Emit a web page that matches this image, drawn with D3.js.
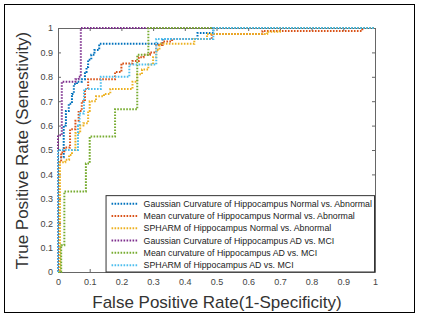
<!DOCTYPE html>
<html>
<head>
<meta charset="utf-8">
<script src="https://cdn.jsdelivr.net/npm/d3@7"></script>
<style>
  body { margin: 0; background: #fff; }
  svg { font-family: Arial, "Liberation Sans", sans-serif; }
</style>
</head>
<body>
<div id="chart"></div>
<script>
// ROC curves, [fpr, tpr] step vertices
const gaussNormal = [[0,0],[0,0.47],[0.018,0.47],[0.018,0.6],[0.025,0.6],[0.025,0.66],[0.034,0.66],[0.034,0.69],[0.044,0.69],[0.044,0.73],[0.05,0.73],[0.05,0.77],[0.06,0.77],[0.06,0.78],[0.075,0.78],[0.075,0.79],[0.085,0.79],[0.085,0.82],[0.09,0.82],[0.09,0.84],[0.095,0.84],[0.095,0.87],[0.105,0.87],[0.105,0.89],[0.115,0.89],[0.115,0.91],[0.13,0.91],[0.13,0.935],[0.33,0.935],[0.33,0.955],[0.44,0.955],[0.44,0.98],[0.49,0.98],[0.49,1],[1,1]];
const meanNormal = [[0,0],[0,0.45],[0.01,0.45],[0.01,0.49],[0.02,0.49],[0.02,0.51],[0.038,0.51],[0.038,0.585],[0.055,0.585],[0.055,0.62],[0.065,0.62],[0.065,0.66],[0.075,0.66],[0.075,0.7],[0.085,0.7],[0.085,0.75],[0.095,0.75],[0.095,0.79],[0.18,0.79],[0.18,0.82],[0.2,0.82],[0.2,0.855],[0.235,0.855],[0.235,0.865],[0.255,0.865],[0.255,0.88],[0.27,0.88],[0.27,0.89],[0.29,0.89],[0.29,0.9],[0.31,0.9],[0.31,0.93],[0.33,0.93],[0.33,0.945],[0.36,0.945],[0.36,0.955],[0.485,0.955],[0.485,0.975],[0.645,0.975],[0.645,0.988],[0.96,0.988],[0.96,1],[1,1]];
const spharmNormal = [[0,0],[0.006,0],[0.006,0.45],[0.023,0.45],[0.023,0.46],[0.035,0.46],[0.035,0.48],[0.044,0.48],[0.044,0.5],[0.055,0.5],[0.055,0.57],[0.07,0.57],[0.07,0.6],[0.08,0.6],[0.08,0.61],[0.095,0.61],[0.095,0.66],[0.1,0.66],[0.1,0.7],[0.12,0.7],[0.12,0.72],[0.145,0.72],[0.145,0.73],[0.165,0.73],[0.165,0.75],[0.235,0.75],[0.235,0.78],[0.25,0.78],[0.25,0.81],[0.265,0.81],[0.265,0.83],[0.285,0.83],[0.285,0.85],[0.3,0.85],[0.3,0.88],[0.31,0.88],[0.31,0.91],[0.32,0.91],[0.32,0.935],[0.43,0.935],[0.43,0.955],[0.47,0.955],[0.47,0.975],[0.66,0.975],[0.66,0.985],[0.7,0.985],[0.7,1],[1,1]];
const gaussAD = [[0,0],[0,0.56],[0.012,0.56],[0.012,0.78],[0.055,0.78],[0.055,0.79],[0.065,0.79],[0.065,0.8],[0.072,0.8],[0.072,1],[1,1]];
const meanAD = [[0,0],[0.01,0],[0.01,0.11],[0.02,0.11],[0.02,0.33],[0.088,0.33],[0.088,0.445],[0.1,0.445],[0.1,0.555],[0.18,0.555],[0.18,0.667],[0.25,0.667],[0.25,0.89],[0.285,0.89],[0.285,1],[1,1]];
const spharmAD = [[0,0],[0,0.5],[0.063,0.5],[0.063,0.6],[0.068,0.6],[0.068,0.65],[0.082,0.65],[0.082,0.75],[0.135,0.75],[0.135,0.8],[0.225,0.8],[0.225,0.85],[0.31,0.85],[0.31,0.955],[0.49,0.955],[0.49,1],[1,1]];

const seriesNames = [
  "Gaussian Curvature of Hippocampus Normal vs. Abnormal",
  "Mean curvature of Hippocampus Normal vs. Abnormal",
  "SPHARM of Hippocampus Normal vs. Abnormal",
  "Gaussian Curvature of Hippocampus AD vs. MCI",
  "Mean curvature of Hippocampus AD vs. MCI",
  "SPHARM of Hippocampus AD vs. MCI"
];
const seriesData = [gaussNormal, meanNormal, spharmNormal, gaussAD, meanAD, spharmAD];
const colors = ["#0072BD", "#D95319", "#EDB120", "#7E2F8E", "#77AC30", "#4DBEEE"];
const ticks = d3.range(0, 11).map(d => d / 10);

const W = 429, H = 326;
const margin = { top: 28, left: 58, right: 54, bottom: 54 };
const width = W - margin.left - margin.right;
const height = H - margin.top - margin.bottom;

const svg = d3.select("#chart").append("svg")
  .attr("width", W).attr("height", H);

// outer frame
svg.append("rect")
  .attr("x", 4.5).attr("y", 4.5).attr("width", 410).attr("height", 308)
  .attr("fill", "none").attr("stroke", "#000").attr("stroke-width", 1);

const g = svg.append("g").attr("transform", `translate(${margin.left},${margin.top})`);

const x = d3.scaleLinear().domain([0, 1]).range([0, width]);
const y = d3.scaleLinear().domain([0, 1]).range([height, 0]);

const fmt = d => (d === 0 || d === 1) ? d3.format("d")(d) : d3.format(".1f")(d);
const axisColor = "#666";
const labelColor = "#444";

const xAxis = g.append("g").attr("transform", `translate(0,${height})`)
  .call(d3.axisBottom(x).tickValues(ticks).tickFormat(fmt).tickSizeInner(-3).tickSizeOuter(0).tickPadding(7));
const yAxis = g.append("g")
  .call(d3.axisLeft(y).tickValues(ticks).tickFormat(fmt).tickSizeInner(-3).tickSizeOuter(0).tickPadding(5));
const xTop = g.append("g")
  .call(d3.axisTop(x).tickValues(ticks).tickFormat("").tickSizeInner(-3).tickSizeOuter(0));
const yRight = g.append("g").attr("transform", `translate(${width},0)`)
  .call(d3.axisRight(y).tickValues(ticks).tickFormat("").tickSizeInner(-3).tickSizeOuter(0));

[xAxis, yAxis, xTop, yRight].forEach(a => {
  a.select(".domain").attr("stroke", axisColor);
  a.selectAll(".tick line").attr("stroke", axisColor);
  a.selectAll("text").attr("fill", labelColor).style("font-size", "9px");
});

const line = d3.line().x(d => x(d[0])).y(d => y(d[1]));

seriesData.forEach((data, i) => {
  g.append("path")
    .attr("d", line(data))
    .attr("fill", "none")
    .attr("stroke", colors[i])
    .attr("stroke-width", 2)
    .attr("stroke-dasharray", "1.6 1.4");
});

// legend
const legend = g.append("g").attr("transform", `translate(${x(0.15)},${y(0.315)})`);
legend.append("rect")
  .attr("x", 0.5).attr("y", 0.5)
  .attr("width", x(1) - x(0.15) - 1).attr("height", y(0) - y(0.315) - 0.5)
  .attr("fill", "#fff").attr("stroke", "#333").attr("stroke-width", 1);

seriesNames.forEach((name, i) => {
  const yy = 8.5 + i * 12.3;
  legend.append("line")
    .attr("x1", 6).attr("x2", 33).attr("y1", yy).attr("y2", yy)
    .attr("stroke", colors[i]).attr("stroke-width", 2)
    .attr("stroke-dasharray", "1.6 1.4");
  legend.append("text")
    .attr("x", 38).attr("y", yy).attr("dy", "0.35em")
    .style("font-size", "8.8px").attr("fill", "#222")
    .text(name);
});

// axis titles
svg.append("text")
  .attr("x", margin.left + width / 2 + 0.5).attr("y", 308)
  .attr("text-anchor", "middle")
  .style("font-size", "17px").attr("fill", "#333")
  .text("False Positive Rate(1-Specificity)");

svg.append("text")
  .attr("transform", `translate(28,${margin.top + height / 2 + 0.5}) rotate(-90)`)
  .attr("text-anchor", "middle")
  .style("font-size", "17px").attr("fill", "#333")
  .text("True Positive Rate (Senestivity)");
</script>
</body>
</html>
